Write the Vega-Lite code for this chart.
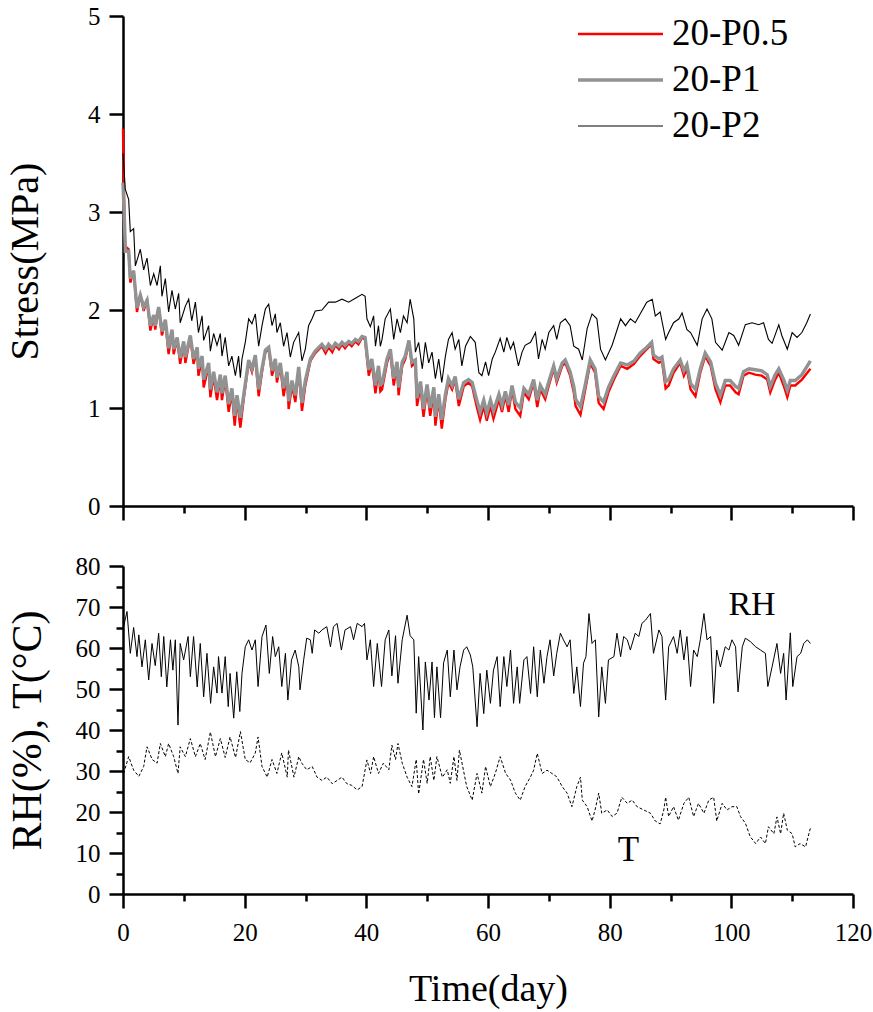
{
  "$schema": "https://vega.github.io/schema/vega-lite/v6.json",
  "padding": {"left": 5, "top": 4, "right": 20, "bottom": 5},
  "config": {
    "font": "Liberation Serif",
    "view": {"stroke": null},
    "legend": {"labelFont": "Liberation Serif"},
    "axis": {
      "grid": false,
      "domainColor": "#000000",
      "domainWidth": 2.5,
      "tickColor": "#000000",
      "tickWidth": 2.5,
      "labelColor": "#000000",
      "titleColor": "#000000",
      "labelFont": "Liberation Serif",
      "titleFont": "Liberation Serif",
      "labelFontSize": 25,
      "titleFontSize": 36,
      "titleFontWeight": "normal",
      "labelOverlap": false,
      "labelFlush": false,
      "labelBound": false
    }
  },
  "datasets": {
    "stress": [
      {"s":"20-P0.5","t":0.0,"v":3.85},{"s":"20-P0.5","t":0.27,"v":2.8},{"s":"20-P0.5","t":0.38,"v":2.65},{"s":"20-P0.5","t":0.93,"v":2.62},{"s":"20-P0.5","t":1.2,"v":2.28},{"s":"20-P0.5","t":1.75,"v":2.4},{"s":"20-P0.5","t":2.3,"v":1.98},{"s":"20-P0.5","t":2.85,"v":2.16},{"s":"20-P0.5","t":3.4,"v":1.99},{"s":"20-P0.5","t":3.95,"v":2.11},{"s":"20-P0.5","t":4.5,"v":1.79},{"s":"20-P0.5","t":5.05,"v":1.94},{"s":"20-P0.5","t":5.3,"v":1.8},{"s":"20-P0.5","t":5.86,"v":2.03},{"s":"20-P0.5","t":6.4,"v":1.74},{"s":"20-P0.5","t":6.96,"v":1.88},{"s":"20-P0.5","t":7.5,"v":1.55},{"s":"20-P0.5","t":8.05,"v":1.78},{"s":"20-P0.5","t":8.33,"v":1.55},{"s":"20-P0.5","t":8.9,"v":1.7},{"s":"20-P0.5","t":9.4,"v":1.45},{"s":"20-P0.5","t":9.97,"v":1.66},{"s":"20-P0.5","t":10.25,"v":1.46},{"s":"20-P0.5","t":11.07,"v":1.73},{"s":"20-P0.5","t":11.6,"v":1.45},{"s":"20-P0.5","t":12.2,"v":1.6},{"s":"20-P0.5","t":12.4,"v":1.33},{"s":"20-P0.5","t":13.0,"v":1.5},{"s":"20-P0.5","t":13.26,"v":1.21},{"s":"20-P0.5","t":14.08,"v":1.43},{"s":"20-P0.5","t":14.36,"v":1.11},{"s":"20-P0.5","t":14.9,"v":1.33},{"s":"20-P0.5","t":15.45,"v":1.08},{"s":"20-P0.5","t":16.0,"v":1.3},{"s":"20-P0.5","t":16.27,"v":1.08},{"s":"20-P0.5","t":16.8,"v":1.3},{"s":"20-P0.5","t":17.37,"v":0.96},{"s":"20-P0.5","t":17.9,"v":1.16},{"s":"20-P0.5","t":18.36,"v":0.82},{"s":"20-P0.5","t":18.74,"v":1.09},{"s":"20-P0.5","t":19.29,"v":0.8},{"s":"20-P0.5","t":19.84,"v":1.09},{"s":"20-P0.5","t":20.66,"v":1.47},{"s":"20-P0.5","t":21.2,"v":1.37},{"s":"20-P0.5","t":21.75,"v":1.52},{"s":"20-P0.5","t":22.3,"v":1.12},{"s":"20-P0.5","t":22.85,"v":1.37},{"s":"20-P0.5","t":23.4,"v":1.57},{"s":"20-P0.5","t":23.95,"v":1.6},{"s":"20-P0.5","t":24.5,"v":1.33},{"s":"20-P0.5","t":25.04,"v":1.47},{"s":"20-P0.5","t":25.3,"v":1.26},{"s":"20-P0.5","t":25.86,"v":1.43},{"s":"20-P0.5","t":26.4,"v":1.12},{"s":"20-P0.5","t":26.96,"v":1.33},{"s":"20-P0.5","t":27.23,"v":0.99},{"s":"20-P0.5","t":27.78,"v":1.23},{"s":"20-P0.5","t":28.33,"v":1.06},{"s":"20-P0.5","t":28.88,"v":1.39},{"s":"20-P0.5","t":29.42,"v":0.97},{"s":"20-P0.5","t":29.97,"v":1.23},{"s":"20-P0.5","t":30.8,"v":1.48},{"s":"20-P0.5","t":31.6,"v":1.56},{"s":"20-P0.5","t":32.7,"v":1.63},{"s":"20-P0.5","t":33.3,"v":1.56},{"s":"20-P0.5","t":33.8,"v":1.62},{"s":"20-P0.5","t":34.4,"v":1.57},{"s":"20-P0.5","t":34.9,"v":1.64},{"s":"20-P0.5","t":35.5,"v":1.6},{"s":"20-P0.5","t":36.0,"v":1.65},{"s":"20-P0.5","t":36.5,"v":1.61},{"s":"20-P0.5","t":37.1,"v":1.66},{"s":"20-P0.5","t":37.6,"v":1.63},{"s":"20-P0.5","t":38.2,"v":1.68},{"s":"20-P0.5","t":38.7,"v":1.65},{"s":"20-P0.5","t":39.3,"v":1.72},{"s":"20-P0.5","t":39.8,"v":1.7},{"s":"20-P0.5","t":40.4,"v":1.33},{"s":"20-P0.5","t":40.9,"v":1.46},{"s":"20-P0.5","t":41.5,"v":1.15},{"s":"20-P0.5","t":42.0,"v":1.39},{"s":"20-P0.5","t":42.3,"v":1.17},{"s":"20-P0.5","t":42.58,"v":1.19},{"s":"20-P0.5","t":43.4,"v":1.46},{"s":"20-P0.5","t":43.95,"v":1.57},{"s":"20-P0.5","t":44.5,"v":1.23},{"s":"20-P0.5","t":45.05,"v":1.43},{"s":"20-P0.5","t":45.3,"v":1.13},{"s":"20-P0.5","t":45.9,"v":1.43},{"s":"20-P0.5","t":46.4,"v":1.5},{"s":"20-P0.5","t":47.0,"v":1.67},{"s":"20-P0.5","t":47.5,"v":1.43},{"s":"20-P0.5","t":48.06,"v":1.46},{"s":"20-P0.5","t":48.33,"v":1.02},{"s":"20-P0.5","t":48.9,"v":1.22},{"s":"20-P0.5","t":49.4,"v":0.91},{"s":"20-P0.5","t":49.98,"v":1.19},{"s":"20-P0.5","t":50.5,"v":0.92},{"s":"20-P0.5","t":51.1,"v":1.16},{"s":"20-P0.5","t":51.35,"v":0.82},{"s":"20-P0.5","t":51.9,"v":1.09},{"s":"20-P0.5","t":52.4,"v":0.79},{"s":"20-P0.5","t":53.0,"v":1.09},{"s":"20-P0.5","t":53.5,"v":1.26},{"s":"20-P0.5","t":54.1,"v":1.19},{"s":"20-P0.5","t":54.6,"v":1.29},{"s":"20-P0.5","t":55.2,"v":1.02},{"s":"20-P0.5","t":56.0,"v":1.22},{"s":"20-P0.5","t":56.8,"v":1.26},{"s":"20-P0.5","t":57.4,"v":1.22},{"s":"20-P0.5","t":58.2,"v":1.0},{"s":"20-P0.5","t":58.7,"v":0.88},{"s":"20-P0.5","t":59.3,"v":1.02},{"s":"20-P0.5","t":59.8,"v":0.87},{"s":"20-P0.5","t":60.4,"v":1.02},{"s":"20-P0.5","t":60.9,"v":0.89},{"s":"20-P0.5","t":61.8,"v":1.09},{"s":"20-P0.5","t":62.3,"v":0.96},{"s":"20-P0.5","t":62.85,"v":1.13},{"s":"20-P0.5","t":63.4,"v":0.96},{"s":"20-P0.5","t":63.95,"v":1.19},{"s":"20-P0.5","t":64.5,"v":0.99},{"s":"20-P0.5","t":65.3,"v":0.92},{"s":"20-P0.5","t":65.9,"v":1.16},{"s":"20-P0.5","t":66.7,"v":1.09},{"s":"20-P0.5","t":67.5,"v":1.26},{"s":"20-P0.5","t":68.1,"v":1.01},{"s":"20-P0.5","t":68.6,"v":1.19},{"s":"20-P0.5","t":69.4,"v":1.09},{"s":"20-P0.5","t":70.0,"v":1.23},{"s":"20-P0.5","t":70.8,"v":1.4},{"s":"20-P0.5","t":71.3,"v":1.26},{"s":"20-P0.5","t":72.2,"v":1.43},{"s":"20-P0.5","t":72.7,"v":1.46},{"s":"20-P0.5","t":73.5,"v":1.33},{"s":"20-P0.5","t":74.1,"v":1.16},{"s":"20-P0.5","t":74.4,"v":1.02},{"s":"20-P0.5","t":75.2,"v":0.93},{"s":"20-P0.5","t":76.0,"v":1.19},{"s":"20-P0.5","t":76.8,"v":1.46},{"s":"20-P0.5","t":77.6,"v":1.36},{"s":"20-P0.5","t":78.2,"v":1.05},{"s":"20-P0.5","t":79.0,"v":0.99},{"s":"20-P0.5","t":79.8,"v":1.16},{"s":"20-P0.5","t":80.7,"v":1.29},{"s":"20-P0.5","t":81.8,"v":1.43},{"s":"20-P0.5","t":82.9,"v":1.4},{"s":"20-P0.5","t":84.0,"v":1.45},{"s":"20-P0.5","t":85.0,"v":1.53},{"s":"20-P0.5","t":86.1,"v":1.6},{"s":"20-P0.5","t":86.9,"v":1.65},{"s":"20-P0.5","t":87.2,"v":1.5},{"s":"20-P0.5","t":88.1,"v":1.46},{"s":"20-P0.5","t":88.6,"v":1.48},{"s":"20-P0.5","t":89.2,"v":1.2},{"s":"20-P0.5","t":89.7,"v":1.23},{"s":"20-P0.5","t":90.5,"v":1.36},{"s":"20-P0.5","t":91.6,"v":1.46},{"s":"20-P0.5","t":92.2,"v":1.33},{"s":"20-P0.5","t":92.7,"v":1.4},{"s":"20-P0.5","t":93.3,"v":1.19},{"s":"20-P0.5","t":94.1,"v":1.12},{"s":"20-P0.5","t":94.9,"v":1.36},{"s":"20-P0.5","t":95.7,"v":1.53},{"s":"20-P0.5","t":96.6,"v":1.43},{"s":"20-P0.5","t":97.4,"v":1.19},{"s":"20-P0.5","t":98.2,"v":1.06},{"s":"20-P0.5","t":99.0,"v":1.23},{"s":"20-P0.5","t":99.8,"v":1.23},{"s":"20-P0.5","t":100.7,"v":1.16},{"s":"20-P0.5","t":101.2,"v":1.14},{"s":"20-P0.5","t":102.0,"v":1.33},{"s":"20-P0.5","t":102.9,"v":1.36},{"s":"20-P0.5","t":103.95,"v":1.34},{"s":"20-P0.5","t":105.0,"v":1.33},{"s":"20-P0.5","t":105.9,"v":1.29},{"s":"20-P0.5","t":106.4,"v":1.16},{"s":"20-P0.5","t":107.2,"v":1.29},{"s":"20-P0.5","t":107.8,"v":1.36},{"s":"20-P0.5","t":108.6,"v":1.23},{"s":"20-P0.5","t":109.2,"v":1.11},{"s":"20-P0.5","t":109.7,"v":1.23},{"s":"20-P0.5","t":110.5,"v":1.23},{"s":"20-P0.5","t":111.6,"v":1.29},{"s":"20-P0.5","t":113.0,"v":1.4},

      {"s":"20-P1","t":0.0,"v":3.3},{"s":"20-P1","t":0.27,"v":2.85},{"s":"20-P1","t":0.38,"v":2.6},{"s":"20-P1","t":0.93,"v":2.6},{"s":"20-P1","t":1.2,"v":2.32},{"s":"20-P1","t":1.75,"v":2.4},{"s":"20-P1","t":2.3,"v":2.02},{"s":"20-P1","t":2.85,"v":2.15},{"s":"20-P1","t":3.4,"v":2.03},{"s":"20-P1","t":3.95,"v":2.1},{"s":"20-P1","t":4.5,"v":1.84},{"s":"20-P1","t":5.05,"v":1.95},{"s":"20-P1","t":5.3,"v":1.84},{"s":"20-P1","t":5.86,"v":2.03},{"s":"20-P1","t":6.4,"v":1.78},{"s":"20-P1","t":6.96,"v":1.9},{"s":"20-P1","t":7.5,"v":1.61},{"s":"20-P1","t":8.05,"v":1.8},{"s":"20-P1","t":8.33,"v":1.6},{"s":"20-P1","t":8.9,"v":1.72},{"s":"20-P1","t":9.4,"v":1.51},{"s":"20-P1","t":9.97,"v":1.68},{"s":"20-P1","t":10.25,"v":1.52},{"s":"20-P1","t":11.07,"v":1.74},{"s":"20-P1","t":11.6,"v":1.5},{"s":"20-P1","t":12.2,"v":1.62},{"s":"20-P1","t":12.4,"v":1.4},{"s":"20-P1","t":13.0,"v":1.53},{"s":"20-P1","t":13.26,"v":1.29},{"s":"20-P1","t":14.08,"v":1.46},{"s":"20-P1","t":14.36,"v":1.19},{"s":"20-P1","t":14.9,"v":1.37},{"s":"20-P1","t":15.45,"v":1.16},{"s":"20-P1","t":16.0,"v":1.34},{"s":"20-P1","t":16.27,"v":1.15},{"s":"20-P1","t":16.8,"v":1.33},{"s":"20-P1","t":17.37,"v":1.04},{"s":"20-P1","t":17.9,"v":1.2},{"s":"20-P1","t":18.36,"v":0.92},{"s":"20-P1","t":18.74,"v":1.13},{"s":"20-P1","t":19.29,"v":0.9},{"s":"20-P1","t":19.84,"v":1.13},{"s":"20-P1","t":20.66,"v":1.49},{"s":"20-P1","t":21.2,"v":1.4},{"s":"20-P1","t":21.75,"v":1.54},{"s":"20-P1","t":22.3,"v":1.19},{"s":"20-P1","t":22.85,"v":1.4},{"s":"20-P1","t":23.4,"v":1.59},{"s":"20-P1","t":23.95,"v":1.62},{"s":"20-P1","t":24.5,"v":1.38},{"s":"20-P1","t":25.04,"v":1.5},{"s":"20-P1","t":25.3,"v":1.31},{"s":"20-P1","t":25.86,"v":1.46},{"s":"20-P1","t":26.4,"v":1.2},{"s":"20-P1","t":26.96,"v":1.37},{"s":"20-P1","t":27.23,"v":1.07},{"s":"20-P1","t":27.78,"v":1.28},{"s":"20-P1","t":28.33,"v":1.13},{"s":"20-P1","t":28.88,"v":1.42},{"s":"20-P1","t":29.42,"v":1.05},{"s":"20-P1","t":29.97,"v":1.28},{"s":"20-P1","t":30.8,"v":1.5},{"s":"20-P1","t":31.6,"v":1.58},{"s":"20-P1","t":32.7,"v":1.65},{"s":"20-P1","t":33.3,"v":1.6},{"s":"20-P1","t":33.8,"v":1.65},{"s":"20-P1","t":34.4,"v":1.61},{"s":"20-P1","t":34.9,"v":1.66},{"s":"20-P1","t":35.5,"v":1.63},{"s":"20-P1","t":36.0,"v":1.67},{"s":"20-P1","t":36.5,"v":1.64},{"s":"20-P1","t":37.1,"v":1.68},{"s":"20-P1","t":37.6,"v":1.66},{"s":"20-P1","t":38.2,"v":1.7},{"s":"20-P1","t":38.7,"v":1.68},{"s":"20-P1","t":39.3,"v":1.73},{"s":"20-P1","t":39.8,"v":1.72},{"s":"20-P1","t":40.4,"v":1.39},{"s":"20-P1","t":40.9,"v":1.5},{"s":"20-P1","t":41.5,"v":1.23},{"s":"20-P1","t":42.0,"v":1.43},{"s":"20-P1","t":42.3,"v":1.24},{"s":"20-P1","t":42.58,"v":1.25},{"s":"20-P1","t":43.4,"v":1.5},{"s":"20-P1","t":43.95,"v":1.6},{"s":"20-P1","t":44.5,"v":1.3},{"s":"20-P1","t":45.05,"v":1.47},{"s":"20-P1","t":45.3,"v":1.21},{"s":"20-P1","t":45.9,"v":1.47},{"s":"20-P1","t":46.4,"v":1.53},{"s":"20-P1","t":47.0,"v":1.69},{"s":"20-P1","t":47.5,"v":1.47},{"s":"20-P1","t":48.06,"v":1.49},{"s":"20-P1","t":48.33,"v":1.1},{"s":"20-P1","t":48.9,"v":1.27},{"s":"20-P1","t":49.4,"v":0.99},{"s":"20-P1","t":49.98,"v":1.24},{"s":"20-P1","t":50.5,"v":1.0},{"s":"20-P1","t":51.1,"v":1.21},{"s":"20-P1","t":51.35,"v":0.91},{"s":"20-P1","t":51.9,"v":1.14},{"s":"20-P1","t":52.4,"v":0.88},{"s":"20-P1","t":53.0,"v":1.14},{"s":"20-P1","t":53.5,"v":1.3},{"s":"20-P1","t":54.1,"v":1.23},{"s":"20-P1","t":54.6,"v":1.32},{"s":"20-P1","t":55.2,"v":1.09},{"s":"20-P1","t":56.0,"v":1.26},{"s":"20-P1","t":56.8,"v":1.29},{"s":"20-P1","t":57.4,"v":1.26},{"s":"20-P1","t":58.2,"v":1.07},{"s":"20-P1","t":58.7,"v":0.96},{"s":"20-P1","t":59.3,"v":1.08},{"s":"20-P1","t":59.8,"v":0.95},{"s":"20-P1","t":60.4,"v":1.08},{"s":"20-P1","t":60.9,"v":0.97},{"s":"20-P1","t":61.8,"v":1.14},{"s":"20-P1","t":62.3,"v":1.03},{"s":"20-P1","t":62.85,"v":1.17},{"s":"20-P1","t":63.4,"v":1.03},{"s":"20-P1","t":63.95,"v":1.23},{"s":"20-P1","t":64.5,"v":1.06},{"s":"20-P1","t":65.3,"v":1.0},{"s":"20-P1","t":65.9,"v":1.2},{"s":"20-P1","t":66.7,"v":1.14},{"s":"20-P1","t":67.5,"v":1.29},{"s":"20-P1","t":68.1,"v":1.08},{"s":"20-P1","t":68.6,"v":1.23},{"s":"20-P1","t":69.4,"v":1.14},{"s":"20-P1","t":70.0,"v":1.27},{"s":"20-P1","t":70.8,"v":1.43},{"s":"20-P1","t":71.3,"v":1.3},{"s":"20-P1","t":72.2,"v":1.46},{"s":"20-P1","t":72.7,"v":1.49},{"s":"20-P1","t":73.5,"v":1.37},{"s":"20-P1","t":74.1,"v":1.22},{"s":"20-P1","t":74.4,"v":1.09},{"s":"20-P1","t":75.2,"v":1.01},{"s":"20-P1","t":76.0,"v":1.24},{"s":"20-P1","t":76.8,"v":1.49},{"s":"20-P1","t":77.6,"v":1.4},{"s":"20-P1","t":78.2,"v":1.12},{"s":"20-P1","t":79.0,"v":1.06},{"s":"20-P1","t":79.8,"v":1.21},{"s":"20-P1","t":80.7,"v":1.33},{"s":"20-P1","t":81.8,"v":1.46},{"s":"20-P1","t":82.9,"v":1.44},{"s":"20-P1","t":84.0,"v":1.48},{"s":"20-P1","t":85.0,"v":1.56},{"s":"20-P1","t":86.1,"v":1.62},{"s":"20-P1","t":86.9,"v":1.67},{"s":"20-P1","t":87.2,"v":1.54},{"s":"20-P1","t":88.1,"v":1.5},{"s":"20-P1","t":88.6,"v":1.52},{"s":"20-P1","t":89.2,"v":1.27},{"s":"20-P1","t":89.7,"v":1.29},{"s":"20-P1","t":90.5,"v":1.4},{"s":"20-P1","t":91.6,"v":1.49},{"s":"20-P1","t":92.2,"v":1.38},{"s":"20-P1","t":92.7,"v":1.44},{"s":"20-P1","t":93.3,"v":1.25},{"s":"20-P1","t":94.1,"v":1.19},{"s":"20-P1","t":94.9,"v":1.4},{"s":"20-P1","t":95.7,"v":1.56},{"s":"20-P1","t":96.6,"v":1.47},{"s":"20-P1","t":97.4,"v":1.25},{"s":"20-P1","t":98.2,"v":1.13},{"s":"20-P1","t":99.0,"v":1.28},{"s":"20-P1","t":99.8,"v":1.28},{"s":"20-P1","t":100.7,"v":1.22},{"s":"20-P1","t":101.2,"v":1.2},{"s":"20-P1","t":102.0,"v":1.37},{"s":"20-P1","t":102.9,"v":1.4},{"s":"20-P1","t":103.95,"v":1.39},{"s":"20-P1","t":105.0,"v":1.38},{"s":"20-P1","t":105.9,"v":1.34},{"s":"20-P1","t":106.4,"v":1.22},{"s":"20-P1","t":107.2,"v":1.34},{"s":"20-P1","t":107.8,"v":1.4},{"s":"20-P1","t":108.6,"v":1.29},{"s":"20-P1","t":109.2,"v":1.18},{"s":"20-P1","t":109.7,"v":1.28},{"s":"20-P1","t":110.5,"v":1.28},{"s":"20-P1","t":111.6,"v":1.34},{"s":"20-P1","t":113.0,"v":1.48},

      {"s":"20-P2","t":0.0,"v":3.6},{"s":"20-P2","t":0.38,"v":3.23},{"s":"20-P2","t":0.93,"v":3.13},{"s":"20-P2","t":1.2,"v":2.8},{"s":"20-P2","t":1.75,"v":2.83},{"s":"20-P2","t":2.03,"v":2.45},{"s":"20-P2","t":2.85,"v":2.62},{"s":"20-P2","t":3.4,"v":2.41},{"s":"20-P2","t":3.95,"v":2.53},{"s":"20-P2","t":4.5,"v":2.25},{"s":"20-P2","t":5.05,"v":2.37},{"s":"20-P2","t":5.6,"v":2.25},{"s":"20-P2","t":6.14,"v":2.45},{"s":"20-P2","t":6.4,"v":2.14},{"s":"20-P2","t":6.96,"v":2.32},{"s":"20-P2","t":7.5,"v":1.98},{"s":"20-P2","t":8.05,"v":2.2},{"s":"20-P2","t":8.6,"v":2.01},{"s":"20-P2","t":9.15,"v":2.17},{"s":"20-P2","t":9.4,"v":1.87},{"s":"20-P2","t":10.25,"v":2.04},{"s":"20-P2","t":10.8,"v":2.11},{"s":"20-P2","t":11.3,"v":1.89},{"s":"20-P2","t":11.9,"v":2.08},{"s":"20-P2","t":12.4,"v":1.77},{"s":"20-P2","t":13.0,"v":1.94},{"s":"20-P2","t":13.26,"v":1.69},{"s":"20-P2","t":14.08,"v":1.84},{"s":"20-P2","t":14.36,"v":1.58},{"s":"20-P2","t":14.9,"v":1.76},{"s":"20-P2","t":15.45,"v":1.64},{"s":"20-P2","t":16.0,"v":1.76},{"s":"20-P2","t":16.27,"v":1.53},{"s":"20-P2","t":16.8,"v":1.72},{"s":"20-P2","t":17.37,"v":1.43},{"s":"20-P2","t":17.9,"v":1.53},{"s":"20-P2","t":18.47,"v":1.33},{"s":"20-P2","t":19.0,"v":1.53},{"s":"20-P2","t":19.29,"v":1.31},{"s":"20-P2","t":19.56,"v":1.5},{"s":"20-P2","t":20.1,"v":1.67},{"s":"20-P2","t":20.66,"v":1.91},{"s":"20-P2","t":21.2,"v":1.86},{"s":"20-P2","t":21.75,"v":1.96},{"s":"20-P2","t":22.3,"v":1.63},{"s":"20-P2","t":22.85,"v":1.84},{"s":"20-P2","t":23.4,"v":2.01},{"s":"20-P2","t":23.95,"v":2.06},{"s":"20-P2","t":24.5,"v":1.84},{"s":"20-P2","t":25.04,"v":1.96},{"s":"20-P2","t":25.3,"v":1.77},{"s":"20-P2","t":25.86,"v":1.87},{"s":"20-P2","t":26.4,"v":1.63},{"s":"20-P2","t":26.96,"v":1.77},{"s":"20-P2","t":27.5,"v":1.52},{"s":"20-P2","t":28.05,"v":1.67},{"s":"20-P2","t":28.88,"v":1.77},{"s":"20-P2","t":29.42,"v":1.48},{"s":"20-P2","t":29.97,"v":1.6},{"s":"20-P2","t":30.5,"v":1.84},{"s":"20-P2","t":31.07,"v":1.91},{"s":"20-P2","t":31.6,"v":1.99},{"s":"20-P2","t":32.7,"v":2.0},{"s":"20-P2","t":33.8,"v":2.08},{"s":"20-P2","t":34.9,"v":2.08},{"s":"20-P2","t":36.0,"v":2.11},{"s":"20-P2","t":37.1,"v":2.08},{"s":"20-P2","t":38.2,"v":2.12},{"s":"20-P2","t":39.3,"v":2.16},{"s":"20-P2","t":39.8,"v":2.14},{"s":"20-P2","t":40.1,"v":1.91},{"s":"20-P2","t":40.66,"v":1.83},{"s":"20-P2","t":41.2,"v":1.94},{"s":"20-P2","t":41.5,"v":1.63},{"s":"20-P2","t":42.0,"v":1.84},{"s":"20-P2","t":42.3,"v":1.63},{"s":"20-P2","t":42.58,"v":1.7},{"s":"20-P2","t":43.1,"v":1.91},{"s":"20-P2","t":43.95,"v":2.01},{"s":"20-P2","t":44.5,"v":1.7},{"s":"20-P2","t":45.05,"v":1.91},{"s":"20-P2","t":45.6,"v":1.77},{"s":"20-P2","t":46.1,"v":1.94},{"s":"20-P2","t":46.7,"v":1.87},{"s":"20-P2","t":47.2,"v":2.11},{"s":"20-P2","t":47.8,"v":1.91},{"s":"20-P2","t":48.06,"v":1.57},{"s":"20-P2","t":48.6,"v":1.67},{"s":"20-P2","t":49.2,"v":1.4},{"s":"20-P2","t":49.7,"v":1.67},{"s":"20-P2","t":50.25,"v":1.46},{"s":"20-P2","t":50.8,"v":1.57},{"s":"20-P2","t":51.35,"v":1.3},{"s":"20-P2","t":51.9,"v":1.5},{"s":"20-P2","t":52.4,"v":1.26},{"s":"20-P2","t":53.0,"v":1.53},{"s":"20-P2","t":53.5,"v":1.7},{"s":"20-P2","t":54.1,"v":1.77},{"s":"20-P2","t":54.6,"v":1.6},{"s":"20-P2","t":55.2,"v":1.7},{"s":"20-P2","t":55.7,"v":1.43},{"s":"20-P2","t":56.3,"v":1.63},{"s":"20-P2","t":57.1,"v":1.73},{"s":"20-P2","t":57.9,"v":1.67},{"s":"20-P2","t":58.5,"v":1.36},{"s":"20-P2","t":59.0,"v":1.33},{"s":"20-P2","t":59.6,"v":1.47},{"s":"20-P2","t":60.1,"v":1.33},{"s":"20-P2","t":60.7,"v":1.5},{"s":"20-P2","t":61.2,"v":1.57},{"s":"20-P2","t":62.0,"v":1.71},{"s":"20-P2","t":62.6,"v":1.57},{"s":"20-P2","t":63.1,"v":1.72},{"s":"20-P2","t":63.7,"v":1.6},{"s":"20-P2","t":64.2,"v":1.67},{"s":"20-P2","t":65.0,"v":1.43},{"s":"20-P2","t":65.6,"v":1.57},{"s":"20-P2","t":66.1,"v":1.64},{"s":"20-P2","t":67.0,"v":1.67},{"s":"20-P2","t":67.8,"v":1.77},{"s":"20-P2","t":68.3,"v":1.5},{"s":"20-P2","t":68.9,"v":1.7},{"s":"20-P2","t":69.4,"v":1.6},{"s":"20-P2","t":70.0,"v":1.77},{"s":"20-P2","t":70.8,"v":1.84},{"s":"20-P2","t":71.3,"v":1.7},{"s":"20-P2","t":71.9,"v":1.87},{"s":"20-P2","t":72.7,"v":1.91},{"s":"20-P2","t":73.5,"v":1.84},{"s":"20-P2","t":74.1,"v":1.63},{"s":"20-P2","t":74.9,"v":1.6},{"s":"20-P2","t":75.5,"v":1.49},{"s":"20-P2","t":76.3,"v":1.81},{"s":"20-P2","t":77.1,"v":1.96},{"s":"20-P2","t":77.9,"v":1.91},{"s":"20-P2","t":78.5,"v":1.6},{"s":"20-P2","t":79.3,"v":1.49},{"s":"20-P2","t":80.4,"v":1.64},{"s":"20-P2","t":81.8,"v":1.91},{"s":"20-P2","t":82.6,"v":1.84},{"s":"20-P2","t":83.4,"v":1.91},{"s":"20-P2","t":84.2,"v":1.87},{"s":"20-P2","t":85.1,"v":1.97},{"s":"20-P2","t":86.1,"v":2.08},{"s":"20-P2","t":87.0,"v":2.11},{"s":"20-P2","t":87.5,"v":1.94},{"s":"20-P2","t":88.3,"v":1.98},{"s":"20-P2","t":89.2,"v":1.7},{"s":"20-P2","t":89.7,"v":1.77},{"s":"20-P2","t":90.5,"v":1.87},{"s":"20-P2","t":91.4,"v":1.91},{"s":"20-P2","t":91.9,"v":1.97},{"s":"20-P2","t":92.7,"v":1.8},{"s":"20-P2","t":93.3,"v":1.77},{"s":"20-P2","t":94.4,"v":1.64},{"s":"20-P2","t":95.2,"v":1.91},{"s":"20-P2","t":96.0,"v":2.01},{"s":"20-P2","t":96.8,"v":1.91},{"s":"20-P2","t":97.4,"v":1.67},{"s":"20-P2","t":98.5,"v":1.59},{"s":"20-P2","t":99.6,"v":1.77},{"s":"20-P2","t":100.4,"v":1.74},{"s":"20-P2","t":101.2,"v":1.64},{"s":"20-P2","t":102.3,"v":1.85},{"s":"20-P2","t":103.4,"v":1.87},{"s":"20-P2","t":104.5,"v":1.85},{"s":"20-P2","t":105.3,"v":1.87},{"s":"20-P2","t":106.1,"v":1.7},{"s":"20-P2","t":106.7,"v":1.66},{"s":"20-P2","t":107.8,"v":1.85},{"s":"20-P2","t":108.3,"v":1.74},{"s":"20-P2","t":109.2,"v":1.6},{"s":"20-P2","t":110.0,"v":1.77},{"s":"20-P2","t":110.8,"v":1.72},{"s":"20-P2","t":111.6,"v":1.77},{"s":"20-P2","t":112.4,"v":1.87},{"s":"20-P2","t":113.0,"v":1.96}
    ],
    "env": [
      {"k":"RH","t":0.1,"v":65.2},{"k":"RH","t":0.66,"v":68.9},{"k":"RH","t":1.2,"v":58.7},{"k":"RH","t":1.75,"v":65},{"k":"RH","t":2.3,"v":57.9},{"k":"RH","t":2.6,"v":63.2},{"k":"RH","t":3.12,"v":55.4},{"k":"RH","t":3.67,"v":62},{"k":"RH","t":4.22,"v":52.2},{"k":"RH","t":4.77,"v":61.1},{"k":"RH","t":5.3,"v":55.7},{"k":"RH","t":5.86,"v":63.6},{"k":"RH","t":6.3,"v":53},{"k":"RH","t":6.7,"v":62.8},{"k":"RH","t":7.2,"v":50.5},{"k":"RH","t":7.8,"v":62},{"k":"RH","t":8.2,"v":54.6},{"k":"RH","t":8.6,"v":62},{"k":"RH","t":9.04,"v":41.2},{"k":"RH","t":9.4,"v":61.1},{"k":"RH","t":9.97,"v":57.1},{"k":"RH","t":10.7,"v":62.8},{"k":"RH","t":11.07,"v":53},{"k":"RH","t":11.6,"v":62.8},{"k":"RH","t":12.2,"v":50.5},{"k":"RH","t":12.7,"v":61.1},{"k":"RH","t":13.26,"v":48.1},{"k":"RH","t":13.8,"v":58.7},{"k":"RH","t":14.4,"v":46.5},{"k":"RH","t":14.9,"v":55.4},{"k":"RH","t":15.45,"v":49},{"k":"RH","t":15.7,"v":57.9},{"k":"RH","t":16.27,"v":49},{"k":"RH","t":16.8,"v":57.9},{"k":"RH","t":17.3,"v":45.7},{"k":"RH","t":17.6,"v":53.8},{"k":"RH","t":18.2,"v":42.9},{"k":"RH","t":18.7,"v":54.2},{"k":"RH","t":19.2,"v":44.5},{"k":"RH","t":19.56,"v":53.8},{"k":"RH","t":20.1,"v":60.3},{"k":"RH","t":20.66,"v":62},{"k":"RH","t":21.2,"v":59.5},{"k":"RH","t":21.75,"v":62},{"k":"RH","t":22.2,"v":50.6},{"k":"RH","t":22.85,"v":62.8},{"k":"RH","t":23.5,"v":65.6},{"k":"RH","t":24.05,"v":53.8},{"k":"RH","t":24.6,"v":62.8},{"k":"RH","t":25.04,"v":57.9},{"k":"RH","t":25.6,"v":60.3},{"k":"RH","t":26.1,"v":50.6},{"k":"RH","t":26.7,"v":58.7},{"k":"RH","t":27.1,"v":47.3},{"k":"RH","t":27.7,"v":57.1},{"k":"RH","t":28.3,"v":59.5},{"k":"RH","t":28.9,"v":55.4},{"k":"RH","t":29.1,"v":49.8},{"k":"RH","t":29.7,"v":57.1},{"k":"RH","t":30.2,"v":62.4},{"k":"RH","t":30.8,"v":62},{"k":"RH","t":31.1,"v":58.7},{"k":"RH","t":31.5,"v":64.4},{"k":"RH","t":32.2,"v":63.6},{"k":"RH","t":32.7,"v":64.4},{"k":"RH","t":33.5,"v":65.2},{"k":"RH","t":34.1,"v":60.3},{"k":"RH","t":34.6,"v":65.2},{"k":"RH","t":35.2,"v":66},{"k":"RH","t":35.9,"v":59.5},{"k":"RH","t":36.5,"v":64.4},{"k":"RH","t":37.4,"v":65.2},{"k":"RH","t":37.9,"v":62},{"k":"RH","t":38.5,"v":66},{"k":"RH","t":39.3,"v":65.2},{"k":"RH","t":39.7,"v":66},{"k":"RH","t":40.1,"v":57.1},{"k":"RH","t":40.66,"v":62},{"k":"RH","t":41.2,"v":50.6},{"k":"RH","t":41.8,"v":61.1},{"k":"RH","t":42.5,"v":50.6},{"k":"RH","t":43.1,"v":62},{"k":"RH","t":43.7,"v":64.4},{"k":"RH","t":44.2,"v":53.2},{"k":"RH","t":44.8,"v":63},{"k":"RH","t":45.2,"v":51.4},{"k":"RH","t":45.9,"v":62},{"k":"RH","t":46.7,"v":68},{"k":"RH","t":47.2,"v":63},{"k":"RH","t":47.8,"v":62},{"k":"RH","t":48.2,"v":44.1},{"k":"RH","t":48.6,"v":57.9},{"k":"RH","t":49.3,"v":40},{"k":"RH","t":49.7,"v":56.6},{"k":"RH","t":50.3,"v":47.3},{"k":"RH","t":50.8,"v":56.6},{"k":"RH","t":51.2,"v":43},{"k":"RH","t":51.6,"v":55.4},{"k":"RH","t":52.2,"v":43},{"k":"RH","t":52.7,"v":56.4},{"k":"RH","t":53.3,"v":59.5},{"k":"RH","t":53.8,"v":48.1},{"k":"RH","t":54.4,"v":59.5},{"k":"RH","t":54.9,"v":49.8},{"k":"RH","t":55.4,"v":55.4},{"k":"RH","t":56.0,"v":59.5},{"k":"RH","t":56.5,"v":60.3},{"k":"RH","t":57.1,"v":58.3},{"k":"RH","t":57.5,"v":55.4},{"k":"RH","t":58.2,"v":40.8},{"k":"RH","t":58.7,"v":53.8},{"k":"RH","t":59.3,"v":44},{"k":"RH","t":59.8,"v":54.6},{"k":"RH","t":60.4,"v":46.5},{"k":"RH","t":60.9,"v":54.6},{"k":"RH","t":61.5,"v":57.9},{"k":"RH","t":62.0,"v":45.7},{"k":"RH","t":62.6,"v":57.9},{"k":"RH","t":63.1,"v":50.6},{"k":"RH","t":63.7,"v":59.5},{"k":"RH","t":64.2,"v":46.5},{"k":"RH","t":64.8,"v":55.4},{"k":"RH","t":65.2,"v":46.5},{"k":"RH","t":65.9,"v":57.1},{"k":"RH","t":66.4,"v":57.9},{"k":"RH","t":67.0,"v":48.9},{"k":"RH","t":67.5,"v":60.3},{"k":"RH","t":68.1,"v":48.1},{"k":"RH","t":68.6,"v":59.5},{"k":"RH","t":69.2,"v":51.4},{"k":"RH","t":69.7,"v":57.9},{"k":"RH","t":70.2,"v":62},{"k":"RH","t":70.8,"v":53.2},{"k":"RH","t":71.3,"v":58.7},{"k":"RH","t":71.9,"v":63.6},{"k":"RH","t":72.4,"v":62},{"k":"RH","t":73.0,"v":60.3},{"k":"RH","t":73.5,"v":62},{"k":"RH","t":74.1,"v":48.9},{"k":"RH","t":74.6,"v":55.4},{"k":"RH","t":75.2,"v":45.7},{"k":"RH","t":75.7,"v":56.3},{"k":"RH","t":76.1,"v":57.9},{"k":"RH","t":76.6,"v":68.4},{"k":"RH","t":77.1,"v":61.1},{"k":"RH","t":77.65,"v":62},{"k":"RH","t":78.2,"v":43.2},{"k":"RH","t":78.7,"v":55.4},{"k":"RH","t":79.3,"v":46.5},{"k":"RH","t":79.8,"v":57.1},{"k":"RH","t":80.7,"v":57.9},{"k":"RH","t":81.2,"v":63.6},{"k":"RH","t":81.8,"v":57.9},{"k":"RH","t":82.3,"v":62.8},{"k":"RH","t":82.9,"v":62},{"k":"RH","t":83.4,"v":59.5},{"k":"RH","t":84.2,"v":63.6},{"k":"RH","t":84.8,"v":62.8},{"k":"RH","t":85.3,"v":66},{"k":"RH","t":85.9,"v":66.8},{"k":"RH","t":86.7,"v":68.4},{"k":"RH","t":87.2,"v":58.7},{"k":"RH","t":88.1,"v":64.4},{"k":"RH","t":88.6,"v":62.8},{"k":"RH","t":89.2,"v":47.3},{"k":"RH","t":89.7,"v":60.3},{"k":"RH","t":90.5,"v":62.8},{"k":"RH","t":91.1,"v":58.7},{"k":"RH","t":91.6,"v":64.4},{"k":"RH","t":92.2,"v":57.1},{"k":"RH","t":92.7,"v":62.8},{"k":"RH","t":93.3,"v":50.6},{"k":"RH","t":93.8,"v":59.5},{"k":"RH","t":94.4,"v":57.9},{"k":"RH","t":94.9,"v":62},{"k":"RH","t":95.5,"v":68.4},{"k":"RH","t":96.0,"v":62},{"k":"RH","t":96.6,"v":62.8},{"k":"RH","t":97.1,"v":46.5},{"k":"RH","t":97.6,"v":59.5},{"k":"RH","t":98.2,"v":55.4},{"k":"RH","t":99.0,"v":60.3},{"k":"RH","t":99.6,"v":59.5},{"k":"RH","t":100.1,"v":62},{"k":"RH","t":100.7,"v":60.3},{"k":"RH","t":101.1,"v":49.3},{"k":"RH","t":101.8,"v":60.3},{"k":"RH","t":102.3,"v":62.4},{"k":"RH","t":103.1,"v":61.6},{"k":"RH","t":104.0,"v":60.3},{"k":"RH","t":104.8,"v":59.5},{"k":"RH","t":105.6,"v":58.7},{"k":"RH","t":106.0,"v":50.6},{"k":"RH","t":106.7,"v":55.4},{"k":"RH","t":107.5,"v":61.1},{"k":"RH","t":108.1,"v":53.8},{"k":"RH","t":108.6,"v":58.7},{"k":"RH","t":109.0,"v":47.3},{"k":"RH","t":109.7,"v":63.7},{"k":"RH","t":110.1,"v":50.6},{"k":"RH","t":110.8,"v":57.9},{"k":"RH","t":111.4,"v":58.7},{"k":"RH","t":111.9,"v":61.1},{"k":"RH","t":112.5,"v":62},{"k":"RH","t":113.0,"v":61.1},

      {"k":"T","t":0.1,"v":29.4},{"k":"T","t":0.93,"v":33.5},{"k":"T","t":1.75,"v":30.2},{"k":"T","t":2.6,"v":28.7},{"k":"T","t":3.4,"v":31.1},{"k":"T","t":3.95,"v":35.9},{"k":"T","t":4.8,"v":32.8},{"k":"T","t":5.6,"v":31.9},{"k":"T","t":6.14,"v":36.7},{"k":"T","t":6.96,"v":33.5},{"k":"T","t":7.5,"v":36.7},{"k":"T","t":8.33,"v":33.5},{"k":"T","t":9.04,"v":29.4},{"k":"T","t":9.4,"v":35.9},{"k":"T","t":10.25,"v":33.5},{"k":"T","t":11.07,"v":37.9},{"k":"T","t":11.9,"v":33.5},{"k":"T","t":12.7,"v":36.7},{"k":"T","t":13.5,"v":32.8},{"k":"T","t":14.36,"v":39.5},{"k":"T","t":15.2,"v":33.5},{"k":"T","t":16.0,"v":37.9},{"k":"T","t":16.8,"v":33.3},{"k":"T","t":17.6,"v":38.3},{"k":"T","t":18.5,"v":33.3},{"k":"T","t":19.3,"v":39.6},{"k":"T","t":20.1,"v":32.8},{"k":"T","t":20.9,"v":32},{"k":"T","t":21.75,"v":34.4},{"k":"T","t":22.2,"v":38.3},{"k":"T","t":22.85,"v":31.1},{"k":"T","t":23.7,"v":28.5},{"k":"T","t":24.5,"v":32.8},{"k":"T","t":25.3,"v":29.4},{"k":"T","t":26.1,"v":34.4},{"k":"T","t":27.0,"v":28.5},{"k":"T","t":27.2,"v":35.1},{"k":"T","t":28.1,"v":28.5},{"k":"T","t":28.9,"v":33.5},{"k":"T","t":29.4,"v":31.9},{"k":"T","t":30.2,"v":30.3},{"k":"T","t":31.1,"v":31.1},{"k":"T","t":31.9,"v":28.5},{"k":"T","t":32.7,"v":27.7},{"k":"T","t":33.5,"v":28.5},{"k":"T","t":34.4,"v":26.9},{"k":"T","t":35.2,"v":27.7},{"k":"T","t":36.0,"v":28.5},{"k":"T","t":36.8,"v":26.9},{"k":"T","t":37.6,"v":26.5},{"k":"T","t":38.5,"v":25.4},{"k":"T","t":39.3,"v":26.2},{"k":"T","t":40.1,"v":32.7},{"k":"T","t":40.7,"v":29.4},{"k":"T","t":41.2,"v":33.5},{"k":"T","t":42.0,"v":29.4},{"k":"T","t":42.8,"v":31.9},{"k":"T","t":43.7,"v":30.3},{"k":"T","t":44.2,"v":36.3},{"k":"T","t":44.8,"v":32.8},{"k":"T","t":45.2,"v":36.7},{"k":"T","t":45.9,"v":31.9},{"k":"T","t":46.7,"v":28.5},{"k":"T","t":47.5,"v":26.2},{"k":"T","t":48.2,"v":32.8},{"k":"T","t":48.6,"v":24.4},{"k":"T","t":49.4,"v":32.8},{"k":"T","t":50.0,"v":27},{"k":"T","t":50.5,"v":33.5},{"k":"T","t":51.1,"v":27.7},{"k":"T","t":51.6,"v":33.5},{"k":"T","t":52.5,"v":28.5},{"k":"T","t":53.3,"v":30.3},{"k":"T","t":53.8,"v":27},{"k":"T","t":54.4,"v":33.5},{"k":"T","t":54.9,"v":27.7},{"k":"T","t":55.3,"v":35.1},{"k":"T","t":56.5,"v":26.2},{"k":"T","t":57.4,"v":22.9},{"k":"T","t":58.2,"v":29.4},{"k":"T","t":59.0,"v":24.6},{"k":"T","t":59.6,"v":31.1},{"k":"T","t":60.4,"v":26.2},{"k":"T","t":61.2,"v":29.4},{"k":"T","t":62.0,"v":33.5},{"k":"T","t":62.9,"v":29.4},{"k":"T","t":63.7,"v":27.8},{"k":"T","t":64.5,"v":24.6},{"k":"T","t":65.3,"v":22.9},{"k":"T","t":66.1,"v":26.2},{"k":"T","t":67.0,"v":28.6},{"k":"T","t":67.5,"v":30.2},{"k":"T","t":68.1,"v":34.3},{"k":"T","t":68.9,"v":29.4},{"k":"T","t":69.7,"v":30.2},{"k":"T","t":70.5,"v":29.4},{"k":"T","t":71.3,"v":28.6},{"k":"T","t":72.2,"v":26.2},{"k":"T","t":73.0,"v":24.6},{"k":"T","t":73.8,"v":21.3},{"k":"T","t":74.6,"v":26.2},{"k":"T","t":75.2,"v":28.5},{"k":"T","t":75.5,"v":22.9},{"k":"T","t":76.3,"v":21.3},{"k":"T","t":77.1,"v":17.8},{"k":"T","t":77.6,"v":20.5},{"k":"T","t":78.2,"v":24.6},{"k":"T","t":78.7,"v":19.7},{"k":"T","t":79.6,"v":20.5},{"k":"T","t":80.4,"v":18.9},{"k":"T","t":81.2,"v":19.7},{"k":"T","t":82.0,"v":23.6},{"k":"T","t":82.9,"v":22.1},{"k":"T","t":83.7,"v":22.9},{"k":"T","t":84.5,"v":21.3},{"k":"T","t":85.6,"v":20.5},{"k":"T","t":86.7,"v":19.7},{"k":"T","t":87.5,"v":17.8},{"k":"T","t":88.3,"v":17.1},{"k":"T","t":88.9,"v":20.5},{"k":"T","t":89.2,"v":23.6},{"k":"T","t":89.7,"v":18.9},{"k":"T","t":90.5,"v":21.3},{"k":"T","t":91.3,"v":18},{"k":"T","t":92.2,"v":22.1},{"k":"T","t":93.0,"v":23.6},{"k":"T","t":93.8,"v":18.9},{"k":"T","t":94.6,"v":22.1},{"k":"T","t":95.5,"v":19.7},{"k":"T","t":96.3,"v":22.9},{"k":"T","t":97.1,"v":23.6},{"k":"T","t":97.6,"v":17.8},{"k":"T","t":98.5,"v":22.1},{"k":"T","t":99.3,"v":20.5},{"k":"T","t":100.1,"v":21.3},{"k":"T","t":100.9,"v":21.3},{"k":"T","t":101.5,"v":18.9},{"k":"T","t":102.3,"v":17.3},{"k":"T","t":103.1,"v":14},{"k":"T","t":104.0,"v":12.3},{"k":"T","t":104.8,"v":13.9},{"k":"T","t":105.6,"v":12.3},{"k":"T","t":106.1,"v":16.4},{"k":"T","t":107.0,"v":14.7},{"k":"T","t":107.5,"v":18.8},{"k":"T","t":108.1,"v":14.7},{"k":"T","t":108.6,"v":19.7},{"k":"T","t":109.2,"v":15.6},{"k":"T","t":110.0,"v":14.7},{"k":"T","t":110.5,"v":11.5},{"k":"T","t":111.3,"v":12.3},{"k":"T","t":112.2,"v":11.5},{"k":"T","t":113.0,"v":16.1}
    ],
    "notes": [
      {"label":"RH","t":103.4,"v":68.0,"size":34},
      {"label":"T","t":83.1,"v":8.1,"size":35}
    ]
  },
  "spacing": 32,
  "vconcat": [
    {
      "width": 730,
      "height": 490,
      "data": {"name": "stress"},
      "encoding": {
        "x": {"field": "t", "type": "quantitative", "scale": {"domain": [0, 120], "nice": false},
              "axis": {"title": null, "labels": false, "values": [0,10,20,30,40,50,60,70,80,90,100,110,120],
                       "tickSize": {"condition": {"test": "datum.value % 20 === 0", "value": 14}, "value": 7}}},
        "y": {"field": "v", "type": "quantitative", "scale": {"domain": [0, 5], "nice": false},
              "axis": {"title": "Stress(MPa)", "titleFont": "Liberation Serif", "titleFontSize": 40, "values": [0,0.5,1,1.5,2,2.5,3,3.5,4,4.5,5], "format": "d",
                       "labelFont": "Liberation Serif", "labelFontSize": 25,
                       "labelExpr": "datum.value % 1 === 0 ? datum.label : ''", "labelPadding": 9, "titlePadding": 42,
                       "tickSize": {"condition": {"test": "datum.value % 1 === 0", "value": 14}, "value": 7}}},
        "color": {"field": "s", "type": "nominal", "scale": {"domain": ["20-P0.5","20-P1","20-P2"], "range": ["#ff0000","#929292","#000000"]},
                  "legend": {"title": null, "orient": "none", "legendX": 453, "legendY": -5, "symbolType": "stroke", "symbolSize": 7225, "clipHeight": 46, "labelFont": "Liberation Serif", "labelFontSize": 37, "labelOffset": 7, "padding": 0, "rowPadding": 0, "labelColor": "#000000"}},
        "strokeWidth": {"field": "s", "type": "nominal", "scale": {"type": "ordinal", "domain": ["20-P0.5","20-P1","20-P2"], "range": [2.4, 3.4, 1.1]},
                  "legend": {"title": null, "orient": "none", "legendX": 453, "legendY": -5, "symbolType": "stroke", "symbolSize": 7225, "clipHeight": 46, "labelFont": "Liberation Serif", "labelFontSize": 37, "labelOffset": 7, "padding": 0, "rowPadding": 0, "labelColor": "#000000"}}
      },
      "layer": [
        {"transform": [{"filter": "datum.s === '20-P0.5'"}], "mark": {"type": "line", "strokeJoin": "miter"}},
        {"transform": [{"filter": "datum.s === '20-P1'"}], "mark": {"type": "line", "strokeJoin": "miter"}},
        {"transform": [{"filter": "datum.s === '20-P2'"}], "mark": {"type": "line", "strokeJoin": "miter"}}
      ]
    },
    {
      "width": 730,
      "height": 328,
      "encoding": {
        "x": {"field": "t", "type": "quantitative", "scale": {"domain": [0, 120], "nice": false},
              "axis": {"title": "Time(day)", "titleFont": "Liberation Serif", "titleFontSize": 38, "titlePadding": 25, "values": [0,10,20,30,40,50,60,70,80,90,100,110,120], "format": "d",
                       "labelFont": "Liberation Serif", "labelFontSize": 25,
                       "labelExpr": "datum.value % 20 === 0 ? datum.label : ''", "labelPadding": 12,
                       "tickSize": {"condition": {"test": "datum.value % 20 === 0", "value": 14}, "value": 7}}},
        "y": {"field": "v", "type": "quantitative", "scale": {"domain": [0, 80], "nice": false},
              "axis": {"title": "RH(%), T(°C)", "titleFont": "Liberation Serif", "titleFontSize": 42, "values": [0,5,10,15,20,25,30,35,40,45,50,55,60,65,70,75,80], "format": "d",
                       "labelFont": "Liberation Serif", "labelFontSize": 25,
                       "labelExpr": "datum.value % 10 === 0 ? datum.label : ''", "labelPadding": 9, "titlePadding": 26,
                       "tickSize": {"condition": {"test": "datum.value % 10 === 0", "value": 14}, "value": 7}}}
      },
      "layer": [
        {"data": {"name": "env"}, "transform": [{"filter": "datum.k === 'RH'"}], "mark": {"type": "line", "color": "#000000", "strokeWidth": 1}},
        {"data": {"name": "env"}, "transform": [{"filter": "datum.k === 'T'"}], "mark": {"type": "line", "color": "#000000", "strokeWidth": 1, "strokeDash": [3, 2]}},
        {"data": {"name": "notes"}, "mark": {"type": "text", "align": "center", "baseline": "alphabetic", "color": "#000000", "font": "Liberation Serif"},
         "encoding": {"text": {"field": "label"}, "size": {"field": "size", "type": "quantitative", "scale": null}}}
      ]
    }
  ]
}
